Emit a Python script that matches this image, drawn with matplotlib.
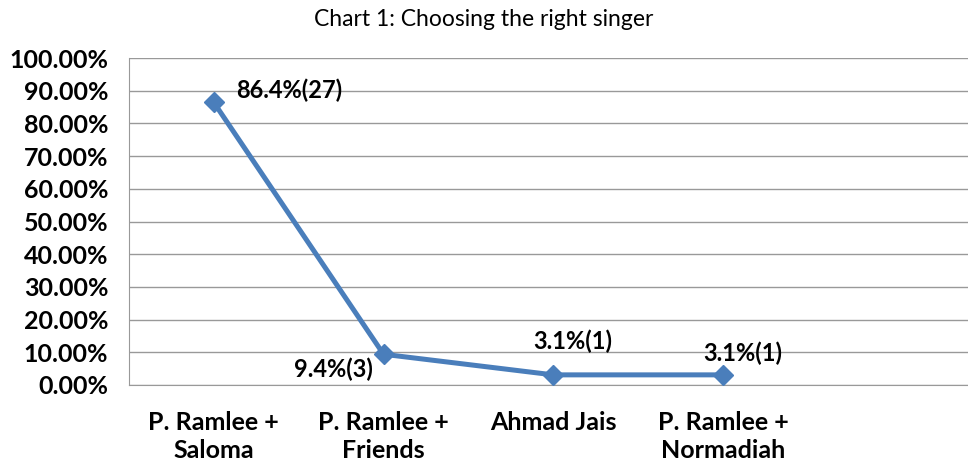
import matplotlib
matplotlib.use("Agg")
import matplotlib.pyplot as plt
from matplotlib.ticker import FuncFormatter

plt.rcParams['font.family'] = ['Lato', 'DejaVu Sans']

singers = ['P. Ramlee +\nSaloma', 'P. Ramlee +\nFriends', 'Ahmad Jais', 'P. Ramlee +\nNormadiah']
percent = [86.4, 9.4, 3.1, 3.1]
counts = [27, 3, 1, 1]
yticks = [0, 10, 20, 30, 40, 50, 60, 70, 80, 90, 100]

fig = plt.figure(figsize=(9.68, 4.62), dpi=100)
ax = fig.add_axes([129 / 968, 1 - 385 / 462, 839 / 968, (385 - 58) / 462])

x = list(range(len(singers)))
ax.plot(x, percent, color='#4a7ebb', lw=3.6, marker='D', markersize=10.5,
        solid_capstyle='round', zorder=3)

# label offsets in pixels (dx, dy)
offs = [(75, 12), (-50, -15), (20, 34), (20, 22)]
for xi, p, c, (dx, dy) in zip(x, percent, counts, offs):
    ax.annotate(f'{p}%({c})', (xi, p), xytext=(dx * 0.72, dy * 0.72),
                textcoords='offset points', ha='center', va='center',
                fontsize=17, fontweight='bold')

ax.set_xlim(-0.5, 4.444)
ax.set_ylim(0, 100)
ax.set_yticks(yticks)
ax.yaxis.set_major_formatter(FuncFormatter(lambda v, _: f'{v:.2f}%'))
ax.set_xticks(x)
ax.set_xticklabels(singers, linespacing=1.25)
ax.tick_params(axis='y', length=0, pad=15, labelsize=18)
ax.tick_params(axis='x', length=0, pad=19, labelsize=18)
for lab in ax.get_xticklabels() + ax.get_yticklabels():
    lab.set_fontweight('bold')
ax.grid(axis='y', color='#999999', lw=1)
ax.set_axisbelow(True)
for s in ['top', 'right']:
    ax.spines[s].set_visible(False)
ax.spines['left'].set_color('#999999')
ax.spines['bottom'].set_color('#999999')

fig.text(0.5, 1 - 20 / 462, 'Chart 1: Choosing the right singer', ha='center', va='center', fontsize=16.5)

fig.savefig('out.png', dpi=100)
